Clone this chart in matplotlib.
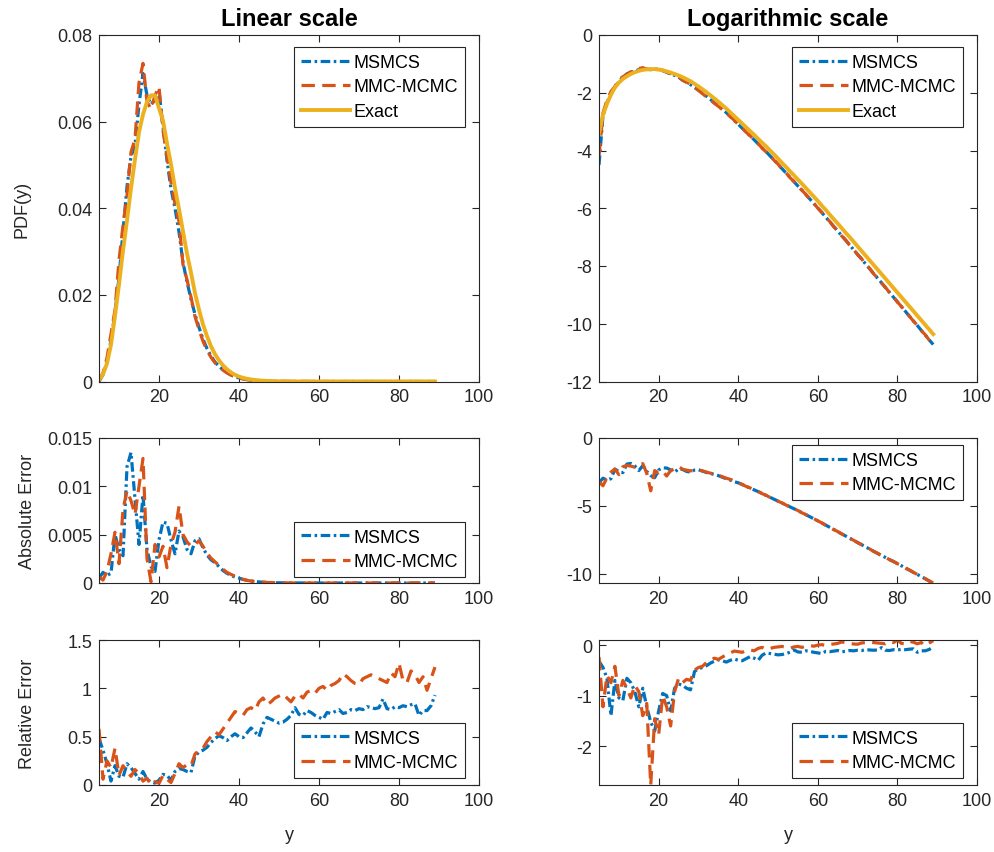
import numpy as np
import matplotlib
matplotlib.use('Agg')
import matplotlib.pyplot as plt
from matplotlib.ticker import FuncFormatter

plt.rcParams['font.family'] = ['Liberation Sans', 'DejaVu Sans']
plt.rcParams['axes.unicode_minus'] = False

# sample points of the output variable y
y_grid = np.arange(5, 90)

# log10 of the PDF: exact and the two estimators
log_pdf_exact = [
    -3.40, -2.77, -2.38, -2.07, -1.82, -1.65, -1.52, -1.43, -1.35, -1.29,
    -1.24, -1.21, -1.19, -1.18, -1.18, -1.20, -1.22, -1.26, -1.30, -1.35,
    -1.40, -1.46, -1.53, -1.60, -1.69, -1.78, -1.88, -1.98, -2.09, -2.20,
    -2.31, -2.43, -2.55, -2.68, -2.81, -2.94, -3.07, -3.20, -3.33, -3.46,
    -3.60, -3.73, -3.86, -4.00, -4.14, -4.28, -4.43, -4.57, -4.72, -4.86,
    -5.01, -5.15, -5.30, -5.45, -5.60, -5.75, -5.91, -6.06, -6.22, -6.38,
    -6.53, -6.69, -6.85, -7.00, -7.16, -7.32, -7.48, -7.64, -7.80, -7.96,
    -8.12, -8.28, -8.44, -8.60, -8.76, -8.92, -9.08, -9.24, -9.40, -9.56,
    -9.72, -9.88, -10.04, -10.20, -10.36]

log_pdf_msmcs = [
    -4.50, -2.80, -2.35, -2.02, -1.80, -1.62, -1.46, -1.347, -1.284, -1.264,
    -1.194, -1.148, -1.180, -1.194, -1.187, -1.174, -1.229, -1.292, -1.352, -1.398,
    -1.462, -1.561, -1.638, -1.721, -1.810, -1.903, -2.009, -2.119, -2.229, -2.347,
    -2.456, -2.569, -2.69, -2.82, -2.96, -3.09, -3.23, -3.36, -3.50, -3.63,
    -3.77, -3.91, -4.04, -4.19, -4.33, -4.48, -4.63, -4.78, -4.93, -5.08,
    -5.23, -5.37, -5.53, -5.68, -5.84, -5.99, -6.15, -6.31, -6.47, -6.63,
    -6.79, -6.95, -7.11, -7.27, -7.44, -7.60, -7.76, -7.93, -8.09, -8.26,
    -8.42, -8.58, -8.75, -8.91, -9.08, -9.24, -9.41, -9.57, -9.74, -9.90,
    -10.06, -10.23, -10.39, -10.56, -10.72]

log_pdf_mmc = [
    -4.20, -2.70, -2.26, -1.959, -1.783, -1.553, -1.444, -1.367, -1.276, -1.252,
    -1.161, -1.134, -1.190, -1.201, -1.180, -1.167, -1.237, -1.284, -1.337, -1.387,
    -1.432, -1.569, -1.629, -1.710, -1.824, -1.921, -2.032, -2.143, -2.252, -2.367,
    -2.469, -2.585, -2.70, -2.83, -2.95, -3.10, -3.22, -3.37, -3.49, -3.64,
    -3.76, -3.92, -4.05, -4.18, -4.34, -4.47, -4.64, -4.77, -4.94, -5.07,
    -5.24, -5.38, -5.52, -5.69, -5.83, -6.00, -6.14, -6.32, -6.46, -6.64,
    -6.78, -6.96, -7.10, -7.28, -7.43, -7.61, -7.75, -7.94, -8.08, -8.27,
    -8.41, -8.59, -8.74, -8.92, -9.07, -9.25, -9.40, -9.58, -9.73, -9.91,
    -10.05, -10.24, -10.38, -10.57, -10.73]

# log10 of the absolute error
log_abs_msmcs = [
    -3.30, -2.96, -3.10, -3.00, -2.30, -2.46, -2.55, -1.92, -1.87, -2.06,
    -2.40, -2.04, -2.46, -2.77, -2.92, -2.35, -2.20, -2.21, -2.35, -2.52,
    -2.27, -2.32, -2.46, -2.52, -2.36, -2.34, -2.44, -2.54, -2.62, -2.68,
    -2.77, -2.89, -3.00, -3.10, -3.22, -3.30, -3.43, -3.56, -3.69, -3.82,
    -3.95, -4.09, -4.23, -4.37, -4.51, -4.65, -4.79, -4.93, -5.07, -5.21,
    -5.35, -5.50, -5.65, -5.80, -5.95, -6.10, -6.26, -6.42, -6.58, -6.74,
    -6.90, -7.06, -7.22, -7.38, -7.54, -7.70, -7.86, -8.02, -8.18, -8.34,
    -8.50, -8.65, -8.80, -8.95, -9.10, -9.25, -9.41, -9.57, -9.73, -9.89,
    -10.05, -10.21, -10.37, -10.53, -10.68]

log_abs_mmc = [
    -3.22, -3.52, -2.92, -2.52, -2.28, -2.70, -2.12, -2.02, -2.07, -2.15,
    -2.00, -1.89, -2.60, -3.89, -2.40, -2.57, -2.42, -2.80, -2.40, -2.28,
    -2.10, -2.30, -2.37, -2.42, -2.40, -2.36, -2.42, -2.51, -2.59, -2.66,
    -2.74, -2.85, -2.96, -3.05, -3.15, -3.30, -3.42, -3.57, -3.68, -3.83,
    -3.94, -4.10, -4.22, -4.38, -4.50, -4.66, -4.78, -4.94, -5.06, -5.22,
    -5.34, -5.51, -5.64, -5.81, -5.94, -6.11, -6.25, -6.43, -6.57, -6.75,
    -6.89, -7.07, -7.21, -7.39, -7.53, -7.71, -7.85, -8.03, -8.17, -8.35,
    -8.49, -8.66, -8.79, -8.96, -9.09, -9.26, -9.40, -9.58, -9.72, -9.90,
    -10.04, -10.22, -10.36, -10.54, -10.67]

# relative error
rel_msmcs = [
    0.48, 0.36, 0.22, 0.04, 0.20, 0.09, 0.08, 0.22, 0.18, 0.12,
    0.06, 0.14, 0.06, 0.03, 0.02, 0.05, 0.11, 0.10, 0.05, 0.14,
    0.17, 0.16, 0.14, 0.13, 0.30, 0.34, 0.36, 0.39, 0.44, 0.48,
    0.51, 0.49, 0.46, 0.50, 0.53, 0.50, 0.49, 0.54, 0.59, 0.55,
    0.50, 0.63, 0.70, 0.68, 0.66, 0.64, 0.65, 0.68, 0.72, 0.80,
    0.73, 0.72, 0.77, 0.75, 0.72, 0.70, 0.68, 0.75, 0.74, 0.76,
    0.78, 0.74, 0.75, 0.78, 0.77, 0.79, 0.78, 0.81, 0.80, 0.79,
    0.80, 0.89, 0.79, 0.78, 0.81, 0.80, 0.82, 0.81, 0.83, 0.84,
    0.72, 0.77, 0.77, 0.82, 0.93]

rel_mmc = [
    0.58, 0.06, 0.25, 0.18, 0.38, 0.10, 0.20, 0.14, 0.09, 0.16,
    0.12, 0.04, 0.07, 0.0017, 0.035, 0.017, 0.10, 0.06, 0.025, 0.12,
    0.22, 0.18, 0.21, 0.20, 0.32, 0.36, 0.38, 0.45, 0.50, 0.55,
    0.52, 0.58, 0.64, 0.70, 0.76, 0.74, 0.72, 0.78, 0.80, 0.77,
    0.86, 0.90, 0.83, 0.86, 0.90, 0.92, 0.94, 0.90, 0.86, 0.92,
    0.94, 0.90, 0.96, 0.98, 0.95, 1.00, 1.02, 0.98, 1.03, 1.05,
    1.08, 1.15, 1.12, 1.08, 1.05, 1.04, 1.10, 1.12, 1.14, 1.12,
    1.10, 1.08, 1.06, 1.16, 1.12, 1.26, 1.08, 1.06, 1.18, 1.14,
    1.06, 1.12, 0.98, 1.10, 1.22]

labels = ['MSMCS', 'MMC-MCMC', 'Exact']
colors = [(0.0, 0.447, 0.741), (0.85, 0.325, 0.098), (0.929, 0.694, 0.125)]
styles = [(0, (3.0, 1.1, 0.8, 1.1)), (0, (4.2, 2.3)), '-']
widths = [2.3, 2.3, 2.8]

dark = (0.15, 0.15, 0.15)

fig = plt.figure(figsize=(9.95, 8.53), dpi=100)
W, H = 995.0, 853.0


def make_axes(x0, x1, y0, y1):
    return fig.add_axes([x0 / W, 1 - y1 / H, (x1 - x0) / W, (y1 - y0) / H])


def style(ax, ylim, yticks):
    ax.set_xlim(5, 100)
    ax.set_ylim(*ylim)
    ax.set_xticks([20, 40, 60, 80, 100])
    ax.set_yticks(yticks)
    ax.yaxis.set_major_formatter(FuncFormatter(lambda v, p: '%g' % v))
    ax.tick_params(direction='in', top=True, right=True, length=5, width=0.8,
                   color=dark, labelcolor=dark, labelsize=13, pad=5)
    for s in ax.spines.values():
        s.set_color(dark)
        s.set_linewidth(0.8)


def add_legend(ax, where, dy):
    # legend box offset from the axes corner in pixels
    bb = ax.get_position()
    w_px, h_px = bb.width * W, bb.height * H
    ax_x = 1 - 14 / w_px
    ax_y = 1 - dy / h_px if where == 'upper right' else dy / h_px
    leg = ax.legend(loc=where, bbox_to_anchor=(ax_x, ax_y), borderaxespad=0,
                    fontsize=13, fancybox=False, framealpha=1,
                    edgecolor=dark, handlelength=2.7, handletextpad=0.2,
                    labelspacing=0.42, borderpad=0.38)
    leg.get_frame().set_linewidth(0.8)


lx0, lx1 = 99, 479
rx0, rx1 = 599, 977
rows = [(36, 382.5), (439, 584), (641, 786)]

ax_pdf = make_axes(lx0, lx1, *rows[0])
ax_lpdf = make_axes(rx0, rx1, *rows[0])
ax_abs = make_axes(lx0, lx1, *rows[1])
ax_labs = make_axes(rx0, rx1, *rows[1])
ax_rel = make_axes(lx0, lx1, *rows[2])
ax_lrel = make_axes(rx0, rx1, *rows[2])

# PDF, linear and logarithmic
pdf_series = [log_pdf_msmcs, log_pdf_mmc, log_pdf_exact]
for vals, lab, c, ls, lw in zip(pdf_series, labels, colors, styles, widths):
    ax_pdf.plot(y_grid, 10 ** np.array(vals), color=c, linestyle=ls, lw=lw, label=lab)
    ax_lpdf.plot(y_grid, vals, color=c, linestyle=ls, lw=lw, label=lab)

# absolute error
for vals, lab, c, ls, lw in zip([log_abs_msmcs, log_abs_mmc], labels, colors, styles, widths):
    ax_abs.plot(y_grid, 10 ** np.array(vals), color=c, linestyle=ls, lw=lw, label=lab)
    ax_labs.plot(y_grid, vals, color=c, linestyle=ls, lw=lw, label=lab)

# relative error
for vals, lab, c, ls, lw in zip([rel_msmcs, rel_mmc], labels, colors, styles, widths):
    ax_rel.plot(y_grid, vals, color=c, linestyle=ls, lw=lw, label=lab)
    ax_lrel.plot(y_grid, np.log10(vals), color=c, linestyle=ls, lw=lw, label=lab)

style(ax_pdf, (0, 0.08), [0, 0.02, 0.04, 0.06, 0.08])
style(ax_lpdf, (-12, 0), [-12, -10, -8, -6, -4, -2, 0])
style(ax_abs, (0, 0.015), [0, 0.005, 0.01, 0.015])
labs_min = min(min(log_abs_msmcs), min(log_abs_mmc))
style(ax_labs, (labs_min, 0), [-10, -5, 0])
style(ax_rel, (0, 1.5), [0, 0.5, 1, 1.5])
lrel_all = np.log10(rel_msmcs + rel_mmc)
style(ax_lrel, (lrel_all.min(), lrel_all.max()), [-2, -1, 0])

add_legend(ax_pdf, 'upper right', 12)
add_legend(ax_lpdf, 'upper right', 12)
add_legend(ax_abs, 'lower right', 6)
add_legend(ax_labs, 'upper right', 7)
add_legend(ax_rel, 'lower right', 7)
add_legend(ax_lrel, 'lower right', 7)

ax_pdf.set_title('Linear scale', fontsize=17, fontweight='bold', color='black', pad=7)
ax_lpdf.set_title('Logarithmic scale', fontsize=17, fontweight='bold', color='black', pad=7)

ax_pdf.set_ylabel('PDF(y)', fontsize=13, color=dark)
ax_abs.set_ylabel('Absolute Error', fontsize=13, color=dark)
ax_rel.set_ylabel('Relative Error', fontsize=13, color=dark)
ax_pdf.yaxis.set_label_coords((30 - lx0) / (lx1 - lx0), 0.5)
ax_abs.yaxis.set_label_coords((36 - lx0) / (lx1 - lx0), 0.5)
ax_rel.yaxis.set_label_coords((36 - lx0) / (lx1 - lx0), 0.5)
ax_rel.set_xlabel('y', fontsize=13, color=dark, labelpad=12)
ax_lrel.set_xlabel('y', fontsize=13, color=dark, labelpad=12)

fig.savefig('out.png', dpi=100, facecolor='white')
